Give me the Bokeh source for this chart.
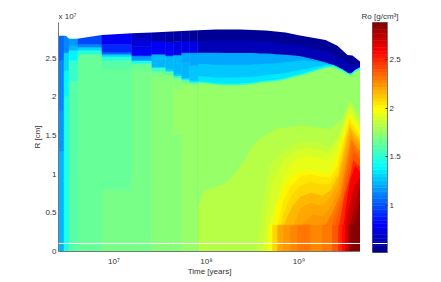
from bokeh.embed import file_html
from bokeh.resources import INLINE
from bokeh.plotting import figure
from bokeh.layouts import row
from bokeh.models import ColumnDataSource, LinearColorMapper, FixedTicker, Span, Range1d, Title
from bokeh.transform import transform
import numpy as np

# Early stepped time columns: log10(years) edges
LOG10_TIME_EDGES = [6.401, 6.461, 6.515, 6.612, 6.871, 7.194, 7.410, 7.561, 7.647, 7.734, 7.820, 7.906]

# Density (g/cm3) of each layer, bottom up, and the radius (1e7 cm) at its top, per early column
RHO_C01 = [1.22, 1.17, 1.12, 1.05]
R_C01 = [1.30, 1.82, 2.47, 2.80]
RHO_C02 = [1.47, 1.40, 1.30, 1.12]
R_C02 = [2.00, 2.34, 2.57, 2.80]
RHO_C03 = [1.60, 1.52, 1.38, 1.25, 1.15]
R_C03 = [2.20, 2.47, 2.60, 2.66, 2.78]
RHO_C04 = [1.63, 1.50, 1.30, 1.12, 0.98]
R_C04 = [2.55, 2.60, 2.64, 2.68, 2.81]
RHO_C05 = [1.69, 1.66, 1.60, 1.50, 1.30, 1.05, 0.90, 0.80]
R_C05 = [0.80, 2.36, 2.47, 2.52, 2.55, 2.58, 2.68, 2.83]
RHO_C06 = [1.69, 1.63, 1.45, 1.18, 0.80, 0.72, 0.65]
R_C06 = [2.35, 2.43, 2.47, 2.53, 2.65, 2.76, 2.845]
RHO_C07 = [1.72, 1.68, 1.55, 1.22, 0.78, 0.62]
R_C07 = [2.25, 2.33, 2.38, 2.55, 2.72, 2.86]
RHO_C08 = [1.72, 1.60, 1.30, 1.22, 0.78, 0.62]
R_C08 = [2.28, 2.33, 2.36, 2.53, 2.70, 2.86]
RHO_C09 = [1.72, 1.77, 1.72, 1.55, 1.30, 1.25, 0.74, 0.60]
R_C09 = [1.53, 2.10, 2.24, 2.27, 2.29, 2.54, 2.71, 2.87]
RHO_C10 = [1.77, 1.60, 1.33, 1.25, 1.20, 0.75, 0.60]
R_C10 = [2.18, 2.22, 2.24, 2.44, 2.57, 2.72, 2.87]
RHO_C11 = [1.77, 1.60, 1.33, 1.28, 1.20, 0.75, 0.58]
R_C11 = [2.16, 2.19, 2.21, 2.40, 2.57, 2.72, 2.875]

# Stellar surface
T_SURFACE = [6.401, 6.461, 6.483, 6.515, 6.601, 6.871, 7.194, 7.410, 7.734, 7.906, 8.100, 8.370, 8.640, 8.855,
             8.996, 9.287, 9.416, 9.524, 9.578, 9.665]
R_SURFACE = [2.79, 2.79, 2.785, 2.75, 2.75, 2.80, 2.82, 2.83, 2.85, 2.86, 2.87, 2.87, 2.855, 2.83,
             2.795, 2.735, 2.66, 2.54, 2.535, 2.45]

# Outer envelope after the early columns
T_ENV = [7.906, 8.008, 8.100, 8.208, 8.316, 8.424, 8.510, 8.575, 8.640, 8.694, 8.742, 8.802, 8.872, 8.947, 9.017,
         9.087, 9.157, 9.222, 9.281, 9.335, 9.378, 9.411, 9.443, 9.476, 9.508, 9.535, 9.557, 9.578, 9.605, 9.665]
R_GREEN_TOP = [2.20, 2.19, 2.175, 2.17, 2.17, 2.175, 2.185, 2.20, 2.21, 2.215, 2.22, 2.23, 2.25, 2.275, 2.295,
               2.32, 2.345, 2.37, 2.39, 2.40, 2.40, 2.38, 2.365, 2.345, 2.32, 2.30, 2.295, 2.31, 2.34, 2.38]
R_CYAN_LOW = [2.27, 2.26, 2.25, 2.25, 2.25, 2.255, 2.26, 2.27, 2.28, 2.285, 2.29, 2.30, 2.31, 2.33, 2.345,
              2.36, 2.38, 2.395, 2.41, 2.41, 2.405, 2.385, 2.367, 2.347, 2.322, 2.30, 2.297, 2.312, 2.342, 2.382]
R_CYAN_MID = [2.43, 2.42, 2.41, 2.41, 2.41, 2.41, 2.42, 2.42, 2.43, 2.43, 2.43, 2.44, 2.45, 2.46, 2.465,
              2.465, 2.46, 2.45, 2.435, 2.42, 2.408, 2.388, 2.368, 2.348, 2.323, 2.30, 2.298, 2.313, 2.343, 2.383]
R_DARK_BOTTOM = [2.57, 2.57, 2.57, 2.565, 2.565, 2.565, 2.565, 2.56, 2.56, 2.555, 2.55, 2.545, 2.54, 2.535, 2.525,
                 2.505, 2.485, 2.465, 2.445, 2.425, 2.41, 2.39, 2.37, 2.35, 2.325, 2.30, 2.30, 2.315, 2.345, 2.385]
R_NAVY = [2.72, 2.72, 2.72, 2.72, 2.72, 2.72, 2.72, 2.715, 2.71, 2.705, 2.70, 2.69, 2.68, 2.67, 2.66,
          2.64, 2.62, 2.60, 2.585, 2.565, 2.545, 2.52, 2.49, 2.47, 2.445, 2.42, 2.42, 2.425, 2.42, 2.42]
R_DARK_CAP = 2.88
RHO_DARK_TOP, RHO_DARK_LOW, RHO_DARK_BOTTOM = 0.56, 0.66, 1.20
RHO_CYAN_MID, RHO_CYAN_LOW, RHO_THIN, RHO_BODY = 1.27, 1.33, 1.50, 1.77

# Interior density contours: the radius under which density reaches each value
T_182 = [7.906, 7.949, 7.992, 8.208, 8.316, 8.445, 8.478, 8.586, 8.769, 9.017, 9.341, 9.449, 9.535, 9.557, 9.589, 9.665]
R_182 = [0.56, 0.72, 0.79, 0.88, 1.02, 1.24, 1.34, 1.47, 1.59, 1.63, 1.58, 1.69, 1.89, 1.96, 1.87, 1.71]
T_185 = [8.543, 8.586, 8.640, 8.694, 8.834, 9.017, 9.179, 9.341, 9.416, 9.492, 9.546, 9.589, 9.665]
R_185 = [0, 0.47, 0.85, 1.14, 1.30, 1.42, 1.41, 1.34, 1.46, 1.69, 1.925, 1.82, 1.67]
T_190 = [8.607, 8.650, 8.715, 8.834, 8.963, 9.093, 9.233, 9.319, 9.406, 9.492, 9.546, 9.589, 9.665]
R_190 = [0, 0.47, 0.92, 1.18, 1.30, 1.34, 1.30, 1.27, 1.42, 1.67, 1.87, 1.78, 1.615]
T_195 = [8.650, 8.694, 8.78, 8.834, 8.942, 9.093, 9.233, 9.308, 9.395, 9.470, 9.546, 9.589, 9.665]
R_195 = [0, 0.43, 0.72, 0.98, 1.18, 1.24, 1.20, 1.18, 1.30, 1.56, 1.82, 1.73, 1.58]
T_200 = [8.694, 8.737, 8.758, 8.834, 8.942, 9.071, 9.233, 9.319, 9.395, 9.449, 9.546, 9.589, 9.665]
R_200 = [0, 0.40, 0.59, 0.84, 0.995, 1.05, 1.02, 0.995, 1.14, 1.37, 1.77, 1.68, 1.54]
T_205 = [8.726, 8.769, 8.834, 8.909, 9.017, 9.125, 9.255, 9.341, 9.406, 9.460, 9.546, 9.589, 9.665]
R_205 = [0, 0.34, 0.66, 0.84, 0.97, 0.995, 0.96, 0.96, 1.09, 1.34, 1.72, 1.63, 1.50]
T_210 = [8.758, 8.834, 8.909, 9.017, 9.125, 9.255, 9.341, 9.416, 9.470, 9.546, 9.589, 9.665]
R_210 = [0, 0.50, 0.71, 0.85, 0.90, 0.865, 0.88, 1.03, 1.32, 1.67, 1.59, 1.46]
T_215 = [8.802, 8.855, 8.931, 9.017, 9.125, 9.255, 9.341, 9.427, 9.481, 9.546, 9.589, 9.665]
R_215 = [0, 0.40, 0.59, 0.71, 0.76, 0.72, 0.79, 0.98, 1.28, 1.615, 1.54, 1.42]
T_220 = [8.909, 8.942, 9.017, 9.125, 9.255, 9.341, 9.427, 9.492, 9.557, 9.589, 9.665]
R_220 = [0, 0.34, 0.56, 0.63, 0.59, 0.70, 0.90, 1.24, 1.56, 1.49, 1.38]
T_225 = [8.985, 9.050, 9.147, 9.255, 9.352, 9.438, 9.503, 9.567, 9.610, 9.665]
R_225 = [0, 0.37, 0.48, 0.45, 0.59, 0.83, 1.19, 1.51, 1.41, 1.33]
T_230 = [9.233, 9.287, 9.362, 9.449, 9.514, 9.567, 9.610, 9.665]
R_230 = [0, 0.34, 0.50, 0.75, 1.14, 1.45, 1.36, 1.28]
T_235 = [9.298, 9.384, 9.460, 9.524, 9.578, 9.610, 9.665]
R_235 = [0, 0.47, 0.70, 1.09, 1.36, 1.30, 1.23]
T_240 = [9.352, 9.406, 9.470, 9.535, 9.589, 9.621, 9.665]
R_240 = [0, 0.40, 0.66, 1.02, 1.28, 1.24, 1.18]
T_250 = [9.395, 9.438, 9.492, 9.546, 9.589, 9.665]
R_250 = [0, 0.37, 0.72, 0.94, 1.18, 1.09]
T_260 = [9.438, 9.481, 9.524, 9.557, 9.610, 9.665]
R_260 = [0, 0.34, 0.72, 0.94, 1.11, 1.02]
T_270 = [9.481, 9.524, 9.557, 9.600, 9.665]
R_270 = [0, 0.47, 0.66, 0.85, 0.96]
T_280 = [9.524, 9.557, 9.600, 9.665]
R_280 = [0, 0.34, 0.59, 0.85]
T_288 = [9.557, 9.589, 9.665]
R_288 = [0, 0.34, 0.66]
CONTOUR_RHO = [1.82, 1.85, 1.90, 1.95, 2.00, 2.05, 2.10, 2.15, 2.20, 2.25, 2.30, 2.35, 2.40, 2.50, 2.60, 2.70, 2.80, 2.88]
CONTOUR_T = [T_182, T_185, T_190, T_195, T_200, T_205, T_210, T_215, T_220, T_225, T_230, T_235, T_240, T_250, T_260, T_270, T_280, T_288]
CONTOUR_R = [R_182, R_185, R_190, R_195, R_200, R_205, R_210, R_215, R_220, R_225, R_230, R_235, R_240, R_250, R_260, R_270, R_280, R_288]

# Stepped layer at the centre
BASE_T_EDGES = [8.672, 8.715, 8.769, 8.834, 8.909, 8.985, 9.050, 9.125, 9.190, 9.255, 9.362, 9.427, 9.470, 9.503, 9.535, 9.557, 9.610, 9.665]
BASE_RHO = [1.99, 2.08, 2.18, 2.24, 2.26, 2.31, 2.31, 2.27, 2.28, 2.325, 2.40, 2.50, 2.58, 2.68, 2.78, 2.86, 2.88]
BASE_R_TOP = 0.34

Y_TICKS = [0, 0.5, 1, 1.5, 2, 2.5]
Y_LABELS = ["0", "0.5", "1", "1.5", "2", "2.5"]
X_TICKS = [1e7, 1e8, 1e9]
X_LABELS = ["10\u2077", "10\u2078", "10\u2079"]
CB_TICKS = [1, 1.5, 2, 2.5]
CB_LABELS = ["1", "1.5", "2", "2.5"]
WHITE_LINE_R = 0.104
RHO_LOW, RHO_HIGH = 0.517, 2.88
XMIN, XMAX, YMAX = 6.401, 9.665, 2.96


def jet(n):
    f = (np.arange(n) + 0.5) / n
    r = np.clip(np.minimum(4 * f - 1.5, 4.5 - 4 * f), 0, 1)
    g = np.clip(np.minimum(4 * f - 0.5, 3.5 - 4 * f), 0, 1)
    b = np.clip(np.minimum(4 * f + 0.5, 2.5 - 4 * f), 0, 1)
    return ["#%02x%02x%02x" % (int(x * 255), int(y * 255), int(z * 255)) for x, y, z in zip(r, g, b)]


JET = jet(64)
mapper = LinearColorMapper(palette=JET, low=RHO_LOW, high=RHO_HIGH)


def colour(d):
    return JET[min(63, max(0, int((d - RHO_LOW) / (RHO_HIGH - RHO_LOW) * 64)))]


def years(t):
    return [10 ** v for v in t]


def cm(r):
    return [v * 1e7 for v in r]


FONT = "Liberation Sans"
TXT = "#333333"
AX = "#777777"

p = figure(width=360, height=274, frame_width=302, frame_height=229, x_axis_type="log",
           x_range=Range1d(10 ** XMIN, 10 ** XMAX), y_range=Range1d(0, YMAX * 1e7),
           toolbar_location=None, output_backend="svg",
           min_border_left=58, min_border_right=0, min_border_top=22, min_border_bottom=23,
           outline_line_color=None)
p.grid.visible = False

# Envelope, outside in
env_x = years(T_ENV)
for d, r in [(RHO_DARK_TOP, [R_DARK_CAP] * len(T_ENV)), (RHO_DARK_LOW, R_NAVY), (RHO_DARK_BOTTOM, R_DARK_BOTTOM),
             (RHO_CYAN_MID, R_CYAN_MID), (RHO_CYAN_LOW, R_CYAN_LOW), (RHO_THIN, R_GREEN_TOP)]:
    p.varea(x=env_x, y1=[0] * len(env_x), y2=cm(r), fill_color=colour(d))
p.varea(x=env_x, y1=[0] * len(env_x), y2=cm([v - 0.02 for v in R_GREEN_TOP]), fill_color=colour(RHO_BODY))

# Interior contours, low density to high
for d, t, r in zip(CONTOUR_RHO, CONTOUR_T, CONTOUR_R):
    p.varea(x=years(t), y1=[0] * len(t), y2=cm(r), fill_color=colour(d))

# Early columns, over the left edge of the envelope
left, right, bottom, top, rho = [], [], [], [], []
g = globals()
for i in range(11):
    below = 0.0
    for d, t in zip(g[f"RHO_C{i + 1:02d}"], g[f"R_C{i + 1:02d}"]):
        left.append(10 ** LOG10_TIME_EDGES[i])
        right.append(10 ** LOG10_TIME_EDGES[i + 1])
        bottom.append(below * 1e7)
        top.append(t * 1e7)
        rho.append(d)
        below = t
p.quad(left="left", right="right", bottom="bottom", top="top",
       source=ColumnDataSource(dict(left=left, right=right, bottom=bottom, top=top, rho=rho)),
       fill_color=transform("rho", mapper), line_color=transform("rho", mapper), line_width=0.5)

# Stepped central layer
base = ColumnDataSource(dict(left=years(BASE_T_EDGES[:-1]), right=years(BASE_T_EDGES[1:]),
                             top=[BASE_R_TOP * 1e7] * len(BASE_RHO), rho=BASE_RHO))
p.quad(left="left", right="right", bottom=0, top="top", source=base,
       fill_color=transform("rho", mapper), line_color=transform("rho", mapper), line_width=0.5)

# Everything above the surface is empty
sx = years(T_SURFACE)
p.varea(x=sx, y1=cm(R_SURFACE), y2=[YMAX * 1e7] * len(sx), fill_color="white")

p.add_layout(Span(location=WHITE_LINE_R * 1e7, dimension="width", line_color="white", line_width=1))

p.xaxis.ticker = FixedTicker(ticks=X_TICKS)
p.xaxis.major_label_overrides = {t: s for t, s in zip(X_TICKS, X_LABELS)}
p.yaxis.ticker = FixedTicker(ticks=[t * 1e7 for t in Y_TICKS])
p.yaxis.major_label_overrides = {t * 1e7: s for t, s in zip(Y_TICKS, Y_LABELS)}
for ax in (p.xaxis[0], p.yaxis[0]):
    ax.major_tick_in = 0
    ax.major_tick_out = 0
    ax.minor_tick_in = 0
    ax.minor_tick_out = 0
    ax.major_tick_line_color = None
    ax.minor_tick_line_color = None
    ax.axis_line_color = AX
    ax.major_label_text_font = FONT
    ax.major_label_text_font_size = "8px"
    ax.major_label_text_color = TXT
    ax.axis_label_text_font = FONT
    ax.axis_label_text_font_size = "8px"
    ax.axis_label_text_font_style = "normal"
    ax.axis_label_text_color = TXT
p.xaxis.axis_label = "Time [years]"
p.yaxis.axis_label = "R [cm]"
p.xaxis.major_label_standoff = 5
p.yaxis.major_label_standoff = 2
p.xaxis.axis_label_standoff = -2
p.yaxis.axis_label_standoff = 0
p.add_layout(Title(text="x 10\u2077", align="left", text_font=FONT, text_font_size="8px",
                   text_font_style="normal", text_color=TXT, standoff=4), "above")

cb_edges = np.linspace(RHO_LOW, RHO_HIGH, 65)
cb = figure(width=60, height=274, frame_width=15, frame_height=230, x_range=Range1d(0, 1),
            y_range=Range1d(RHO_LOW, RHO_HIGH), toolbar_location=None, output_backend="svg",
            min_border_left=12, min_border_right=33, min_border_top=22, min_border_bottom=22,
            y_axis_location="right", outline_line_color=AX)
cb.grid.visible = False
cb.xaxis.visible = False
cb.quad(left=0, right=1, bottom=cb_edges[:-1], top=cb_edges[1:], fill_color=JET, line_color=JET, line_width=0.5)
cb.add_layout(Span(location=RHO_LOW + (RHO_HIGH - RHO_LOW) * 9 / 230, dimension="width", line_color="white", line_width=1))
cb.yaxis.ticker = FixedTicker(ticks=CB_TICKS)
cb.yaxis.major_label_overrides = {t: s for t, s in zip(CB_TICKS, CB_LABELS)}
ay = cb.yaxis[0]
ay.major_tick_in = 2
ay.major_tick_out = 0
ay.minor_tick_in = 0
ay.minor_tick_out = 0
ay.major_tick_line_color = "#333333"
ay.minor_tick_line_color = None
ay.axis_line_color = AX
ay.major_label_text_font = FONT
ay.major_label_text_font_size = "8px"
ay.major_label_text_color = TXT
ay.major_label_standoff = 2
cb.add_layout(Title(text="Ro [g/cm\u00b3]", align="center", text_font=FONT, text_font_size="8px",
                    text_font_style="normal", text_color=TXT, standoff=4), "above")

open("out.html", "w").write(file_html(row(p, cb, spacing=0), INLINE))
